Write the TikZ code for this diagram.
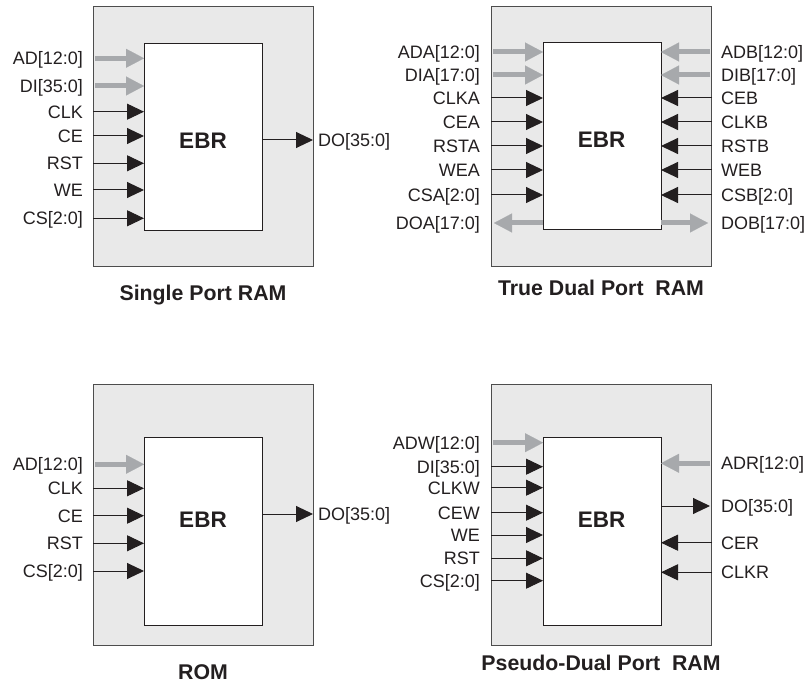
\documentclass[tikz,border=0pt]{standalone}
\usepackage{fontspec}
\setmainfont{Liberation Sans}
\usetikzlibrary{arrows.meta}
\definecolor{panelfill}{HTML}{E9E9E9}
\definecolor{panelline}{HTML}{4D4D4D}
\definecolor{busgray}{HTML}{A7A9AC}
\definecolor{inkblack}{HTML}{231F20}
\begin{document}
\begin{tikzpicture}[x=1pt,y=-1pt,
  panel/.style={draw=panelline, fill=panelfill, line width=1pt, inner sep=0pt, outer sep=0pt,
                minimum width=220pt, minimum height=260pt, anchor=north west},
  ebrbox/.style={draw=inkblack, fill=white, line width=1pt, inner sep=0pt, outer sep=0pt,
                minimum width=118pt, minimum height=187pt, anchor=north west},
  ebrtext/.style={font=\bfseries\fontsize{22.5}{24}\selectfont, text=inkblack, anchor=base, yshift=-8pt, inner sep=0pt},
  sig/.style={draw=inkblack, line width=1pt, -{Triangle[length=17pt,width=16pt]}},
  bus/.style={draw=busgray, line width=5pt, -{Triangle[length=18pt,width=19pt,line width=0.1pt]}},
  lblL/.style={anchor=base east, yshift=-6.5pt, inner sep=0pt, text=inkblack, font=\fontsize{18}{20}\selectfont},
  lblR/.style={anchor=base west, yshift=-6.5pt, inner sep=0pt, text=inkblack, font=\fontsize{18}{20}\selectfont},
  title/.style={anchor=base, yshift=-7.6pt, inner sep=0pt, text=inkblack, font=\bfseries\fontsize{21.3}{24}\selectfont},
]
\useasboundingbox (0,0) rectangle (807,687);

% ---------------- Single Port RAM ----------------
\node[panel] (p1) at (93,7) {};
\node[ebrbox] (e1) at (144,44) {};
\node[ebrtext] (t1) at (203,141) {EBR};
\foreach \y/\t [count=\i] in {58.3/AD[12:0], 86/DI[35:0]} {
  \coordinate (p1b\i) at (95,\y);
  \draw[bus] (p1b\i) -- (p1b\i -| e1.west);
  \node[lblL] (l1b\i) at (83,\y) {\t};
}
\foreach \y/\t [count=\i] in {111.7/CLK, 136/CE, 163.3/RST, 190/WE, 218.3/CS[2:0]} {
  \coordinate (p1s\i) at (93,\y);
  \draw[sig] (p1s\i) -- (p1s\i -| e1.west);
  \node[lblL] (l1s\i) at (83,\y) {\t};
}
\coordinate (p1do) at (313,140);
\draw[sig] (p1do -| e1.east) -- (p1do);
\node[lblR] (l1do) at (318,140) {DO[35:0]};
\node[title] (ti1) at (203,293) {Single Port RAM};

% ---------------- True Dual Port RAM ----------------
\node[panel] (p2) at (491,7) {};
\node[ebrbox] (e2) at (543,43) {};
\node[ebrtext] (t2) at (601.5,140) {EBR};
\foreach \y/\t [count=\i] in {52/ADA[12:0], 75/DIA[17:0]} {
  \coordinate (p2b\i) at (493,\y);
  \draw[bus] (p2b\i) -- (p2b\i -| e2.west);
  \node[lblL] (l2b\i) at (480,\y) {\t};
}
\foreach \y/\t [count=\i] in {98/CLKA, 122/CEA, 146/RSTA, 170/WEA, 195/CSA[2:0]} {
  \coordinate (p2s\i) at (491,\y);
  \draw[sig] (p2s\i) -- (p2s\i -| e2.west);
  \node[lblL] (l2s\i) at (480,\y) {\t};
}
\coordinate (p2doa) at (494,223);
\draw[bus] (p2doa -| e2.west) -- (p2doa);
\node[lblL] (l2doa) at (480,223) {DOA[17:0]};
\foreach \y/\t [count=\i] in {52/ADB[12:0], 75/DIB[17:0]} {
  \coordinate (p2c\i) at (710,\y);
  \draw[bus] (p2c\i) -- (p2c\i -| e2.east);
  \node[lblR] (l2c\i) at (721,\y) {\t};
}
\foreach \y/\t [count=\i] in {98/CEB, 122/CLKB, 146/RSTB, 170/WEB, 195/CSB[2:0]} {
  \coordinate (p2r\i) at (712,\y);
  \draw[sig] (p2r\i) -- (p2r\i -| e2.east);
  \node[lblR] (l2r\i) at (721,\y) {\t};
}
\coordinate (p2dob) at (708,223);
\draw[bus] (p2dob -| e2.east) -- (p2dob);
\node[lblR] (l2dob) at (721,223) {DOB[17:0]};
\node[title] (ti2) at (601,288) {True Dual Port\ \ RAM};

% ---------------- ROM ----------------
\node[panel] (p3) at (93,385) {};
\node[ebrbox] (e3) at (144,438) {};
\node[ebrtext] (t3) at (203,519) {EBR};
\coordinate (p3b1) at (95,464.3);
\draw[bus] (p3b1) -- (p3b1 -| e3.west);
\node[lblL] (l3b1) at (83,464.3) {AD[12:0]};
\foreach \y/\t [count=\i] in {488.3/CLK, 515.7/CE, 543.3/RST, 571/CS[2:0]} {
  \coordinate (p3s\i) at (93,\y);
  \draw[sig] (p3s\i) -- (p3s\i -| e3.west);
  \node[lblL] (l3s\i) at (83,\y) {\t};
}
\coordinate (p3do) at (313,514);
\draw[sig] (p3do -| e3.east) -- (p3do);
\node[lblR] (l3do) at (318,514) {DO[35:0]};
\node[title] (ti3) at (203,672) {ROM};

% ---------------- Pseudo-Dual Port RAM ----------------
\node[panel] (p4) at (491,385) {};
\node[ebrbox] (e4) at (543,438) {};
\node[ebrtext] (t4) at (601.5,519) {EBR};
\coordinate (p4b1) at (493,442.7);
\draw[bus] (p4b1) -- (p4b1 -| e4.west);
\node[lblL] (l4b1) at (480,442.7) {ADW[12:0]};
\foreach \y/\t [count=\i] in {466.7/DI[35:0], 487.7/CLKW, 512.7/CEW, 535/WE, 558.3/RST, 580.7/CS[2:0]} {
  \coordinate (p4s\i) at (491,\y);
  \draw[sig] (p4s\i) -- (p4s\i -| e4.west);
  \node[lblL] (l4s\i) at (480,\y) {\t};
}
\coordinate (p4c1) at (710,463.3);
\draw[bus] (p4c1) -- (p4c1 -| e4.east);
\node[lblR] (l4c1) at (721,463.3) {ADR[12:0]};
\coordinate (p4do) at (710,506);
\draw[sig] (p4do -| e4.east) -- (p4do);
\node[lblR] (l4do) at (721,506) {DO[35:0]};
\foreach \y/\t [count=\i] in {542.7/CER, 572.3/CLKR} {
  \coordinate (p4r\i) at (712,\y);
  \draw[sig] (p4r\i) -- (p4r\i -| e4.east);
  \node[lblR] (l4r\i) at (721,\y) {\t};
}
\node[title] (ti4) at (601,663) {Pseudo-Dual Port\ \ RAM};
\end{tikzpicture}
\end{document}
